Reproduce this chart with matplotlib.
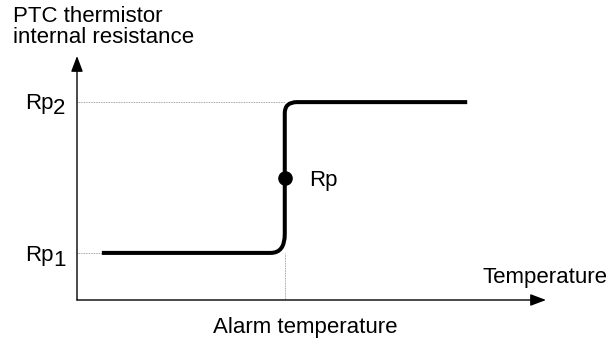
import matplotlib
matplotlib.use("Agg")
import matplotlib.pyplot as plt
from matplotlib.path import Path
from matplotlib.patches import PathPatch

plt.rcParams["font.family"] = ["Liberation Sans", "DejaVu Sans"]

# Schematic PTC curve, arbitrary units on both axes (0..100)
rp1 = 19.3
rp2 = 81.1
alarm_temp = 44.3
rp_mid = (rp1 + rp2) / 2

# knots of the resistance curve; the corner points act as Bezier controls
curve_temp = [5.3, 41.3, alarm_temp, alarm_temp, alarm_temp, alarm_temp, 46.9, 83.2]
curve_res = [rp1, rp1, rp1, 27.0, 76.6, rp2, rp2, rp2]
curve_codes = [Path.MOVETO, Path.LINETO, Path.CURVE3, Path.CURVE3,
               Path.LINETO, Path.CURVE3, Path.CURVE3, Path.LINETO]

fig = plt.figure(figsize=(6.07, 3.42), dpi=100)
ax = fig.add_axes([77 / 607, 42 / 342, 469 / 607, 244 / 342])
ax.set_xlim(0, 100)
ax.set_ylim(0, 100)
ax.set_axis_off()

# axes drawn as arrows
arrow = dict(arrowstyle="-|>,head_length=0.95,head_width=0.36", lw=1.0,
             color="black", shrinkA=0, shrinkB=0)
ax.annotate("", xy=(100, 0), xytext=(0, 0), arrowprops=arrow, annotation_clip=False)
ax.annotate("", xy=(0, 100), xytext=(0, 0), arrowprops=arrow, annotation_clip=False)

# guide lines
guide = dict(color="#888888", lw=0.6, ls=(0, (1, 1)))
ax.plot([0, alarm_temp], [rp2, rp2], **guide)
ax.plot([0, curve_temp[0]], [rp1, rp1], **guide)
ax.plot([alarm_temp, alarm_temp], [0, rp1], **guide)

path = Path(list(zip(curve_temp, curve_res)), curve_codes)
ax.add_patch(PathPatch(path, facecolor="none", edgecolor="black", lw=2.9,
                       capstyle="butt", joinstyle="round"))
ax.plot([alarm_temp], [rp_mid], "o", color="black", ms=9.5)

fs = 16
ax.annotate("Rp", xy=(alarm_temp, rp_mid), xytext=(17.5, -5.8), textcoords="offset points",
            fontsize=fs, ha="left", va="baseline")

# level labels: "Rp" with a lowered index digit
for level, sub, base, sub_base in [(rp2, "2", -4.8, -8.4), (rp1, "1", -6.0, -9.6)]:
    ax.annotate("Rp", xy=(0, level), xytext=(-17.0, base), textcoords="offset points",
                fontsize=fs, ha="right", va="baseline", annotation_clip=False)
    ax.annotate(sub, xy=(0, level), xytext=(-8.2, sub_base), textcoords="offset points",
                fontsize=fs, ha="right", va="baseline", annotation_clip=False)

ax.annotate("Temperature", xy=(100, 0), xytext=(44, 12.2), textcoords="offset points",
            fontsize=fs, ha="right", va="baseline", annotation_clip=False)
ax.annotate("Alarm temperature", xy=(alarm_temp, 0), xytext=(14.4, -23.8),
            textcoords="offset points", fontsize=fs, ha="center", va="baseline",
            annotation_clip=False)

fig.text(13 / 607, 1 - 22 / 342, "PTC thermistor", fontsize=fs, ha="left", va="baseline")
fig.text(13 / 607, 1 - 43 / 342, "internal resistance", fontsize=fs, ha="left", va="baseline")

fig.savefig("out.png", dpi=100)
